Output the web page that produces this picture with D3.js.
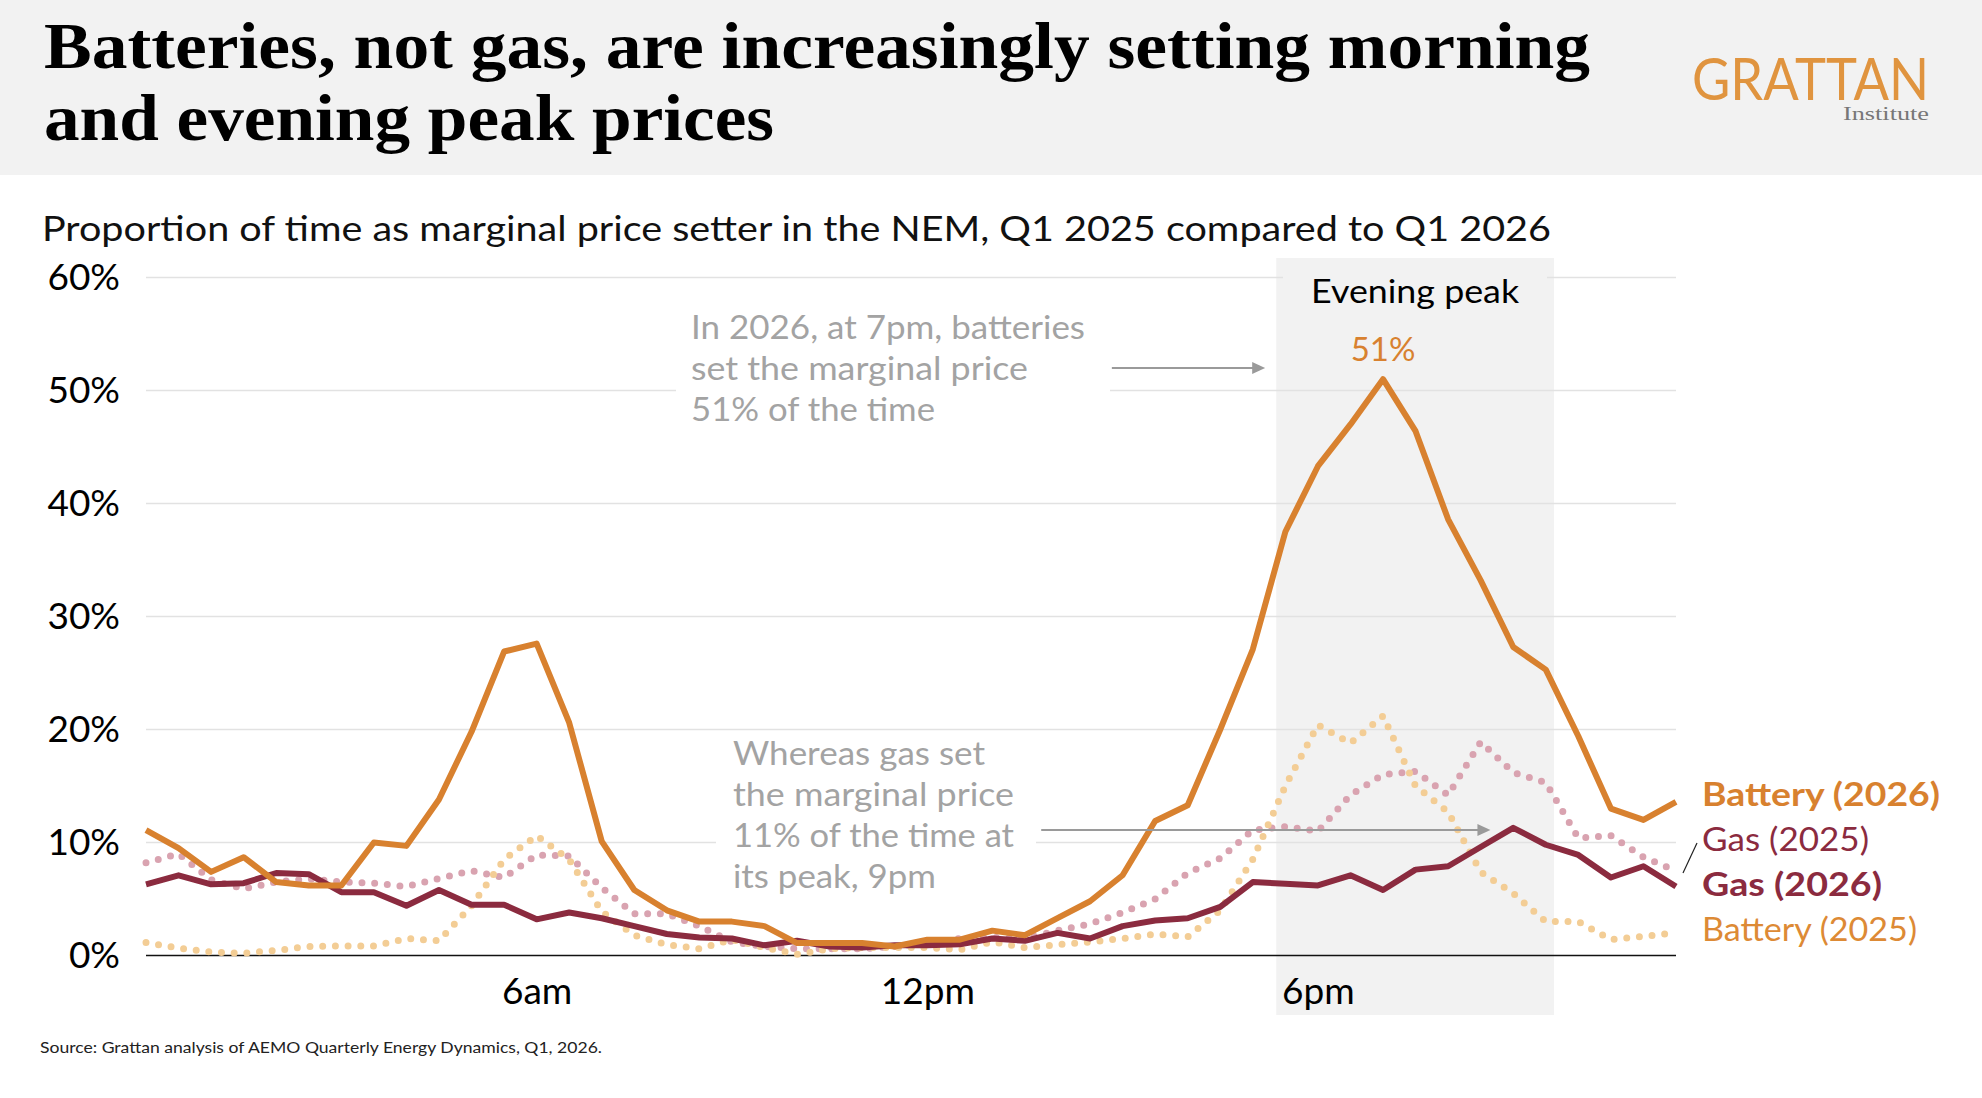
<!DOCTYPE html>
<html>
<head>
  <meta charset="utf-8">
  <title>Batteries, not gas, are increasingly setting peak prices</title>
  <script src="https://d3js.org/d3.v7.min.js"></script>
  <style>
    body { margin: 0; background: #fff; }
    text { font-family: Lato, "Noto Sans", sans-serif; }
  </style>
</head>
<body>
<script>
  // half-hourly periods 00:00 .. 23:30 (index 0..47)
  var tickPeriods = [12, 24, 36];
  var tickLabels = ["6am", "12pm", "6pm"];
  var yTicks = [0, 10, 20, 30, 40, 50, 60];
  var eveningPeak = [34.72, 43.25];

  // % of time as marginal price setter
  var battery2026 = [11.1, 9.5, 7.4, 8.7, 6.5, 6.2, 6.2, 10.0, 9.7, 13.8, 19.8, 26.9,
    27.6, 20.6, 10.1, 5.8, 4.0, 3.0, 3.0, 2.6, 1.1, 1.1, 1.1, 0.8,
    1.4, 1.4, 2.2, 1.8, 3.3, 4.8, 7.1, 11.9, 13.3, 20.0, 27.1, 37.5,
    43.3, 47.0, 51.0, 46.4, 38.6, 33.2, 27.3, 25.3, 19.4, 13.0, 12.0, 13.6];
  var gas2026 = [6.3, 7.1, 6.3, 6.4, 7.3, 7.2, 5.6, 5.6, 4.4, 5.8, 4.5, 4.5,
    3.2, 3.8, 3.3, 2.6, 1.9, 1.6, 1.5, 0.9, 1.3, 0.8, 0.7, 0.9,
    0.9, 1.0, 1.5, 1.3, 2.0, 1.5, 2.6, 3.1, 3.3, 4.3, 6.5, 6.35,
    6.2, 7.1, 5.8, 7.6, 7.9, 9.6, 11.3, 9.8, 8.9, 6.9, 7.9, 6.1];
  var gas2025 = [8.2, 9.0, 6.7, 5.9, 6.5, 6.8, 6.5, 6.4, 6.1, 6.8, 7.5, 6.9,
    8.9, 8.8, 6.0, 3.7, 3.7, 2.6, 1.2, 0.8, 0.6, 0.6, 0.6, 0.8,
    1.1, 1.5, 1.6, 1.5, 2.2, 2.8, 3.8, 5.0, 7.3, 8.6, 11.1, 11.4,
    11.0, 14.2, 16.0, 16.3, 14.2, 18.9, 16.2, 15.3, 10.4, 10.6, 8.7, 7.5];
  var battery2025 = [1.15, 0.65, 0.3, 0.2, 0.45, 0.8, 0.85, 0.85, 1.5, 1.3, 4.4, 8.5,
    10.6, 8.5, 3.9, 1.8, 0.95, 0.6, 1.4, 0.7, 0.1, 0.6, 0.7, 0.7,
    0.7, 0.5, 1.2, 0.7, 0.95, 1.2, 1.5, 1.9, 1.65, 4.0, 8.5, 15.0,
    20.4, 18.8, 21.2, 15.0, 12.7, 7.4, 5.5, 3.0, 3.0, 1.4, 1.7, 2.0];

  var orange = "#D8812F", maroon = "#8B2B3F";

  var width = 1982, height = 1098;
  var svg = d3.select("body").append("svg").attr("width", width).attr("height", height);

  // header
  svg.append("rect").attr("width", width).attr("height", 175).attr("fill", "#f2f2f2");
  var titleLines = ["Batteries, not gas, are increasingly setting morning", "and evening peak prices"];
  var titleWidths = [1546, 730];
  titleLines.forEach(function (t, i) {
    svg.append("text")
      .attr("x", 44).attr("y", 68 + i * 72)
      .attr("font-size", 65).attr("font-weight", "bold")
      .style("font-family", "'Liberation Serif', serif")
      .attr("textLength", titleWidths[i]).attr("lengthAdjust", "spacingAndGlyphs")
      .attr("fill", "#000").text(t);
  });
  svg.append("text").attr("x", 1692).attr("y", 100)
    .attr("font-size", 58).attr("fill", "#E0943F")
    .attr("textLength", 237).attr("lengthAdjust", "spacingAndGlyphs").text("GRATTAN");
  svg.append("text").attr("x", 1843).attr("y", 120)
    .attr("font-size", 18).attr("fill", "#777")
    .style("font-family", "'Liberation Serif', serif")
    .attr("textLength", 86).attr("lengthAdjust", "spacingAndGlyphs").text("Institute");

  svg.append("text").attr("x", 42).attr("y", 241)
    .attr("font-size", 35).attr("fill", "#111")
    .attr("textLength", 1509).attr("lengthAdjust", "spacingAndGlyphs")
    .text("Proportion of time as marginal price setter in the NEM, Q1 2025 compared to Q1 2026");

  // scales
  var xScale = d3.scaleLinear().domain([0, 47]).range([146, 1676]);
  var yScale = d3.scaleLinear().domain([0, 60]).range([955.5, 277.5]);

  // evening peak shading
  svg.append("rect")
    .attr("x", xScale(eveningPeak[0])).attr("y", 258)
    .attr("width", xScale(eveningPeak[1]) - xScale(eveningPeak[0]))
    .attr("height", 1015 - 258)
    .attr("fill", "#f2f2f2");

  // gridlines
  svg.append("g").selectAll("line")
    .data(yTicks.filter(function (d) { return d > 0; }))
    .enter().append("line")
    .attr("x1", xScale(0)).attr("x2", xScale(47))
    .attr("y1", function (d) { return yScale(d); })
    .attr("y2", function (d) { return yScale(d); })
    .attr("stroke", "#e2e2e2").attr("stroke-width", 1.5);

  // backgrounds behind labels (hide gridlines)
  svg.append("rect").attr("x", 1283).attr("y", 266).attr("width", 264).attr("height", 24).attr("fill", "#f2f2f2");
  svg.append("rect").attr("x", 676).attr("y", 372).attr("width", 434).attr("height", 36).attr("fill", "#fff");
  svg.append("rect").attr("x", 716).attr("y", 825).attr("width", 320).attr("height", 36).attr("fill", "#fff");

  // axes
  svg.append("g")
    .attr("transform", "translate(0," + yScale(0) + ")")
    .call(d3.axisBottom(xScale).tickValues(tickPeriods)
      .tickFormat(function (d, i) { return tickLabels[i]; })
      .tickSize(0).tickPadding(22))
    .call(function (g) { g.select(".domain").remove(); })
    .selectAll("text").attr("font-size", 37).attr("fill", "#000");

  svg.append("g")
    .attr("transform", "translate(" + xScale(0) + ",0)")
    .call(d3.axisLeft(yScale).tickValues(yTicks)
      .tickFormat(function (d) { return d + "%"; })
      .tickSize(0).tickPadding(26))
    .call(function (g) { g.select(".domain").remove(); })
    .selectAll("text").attr("font-size", 37).attr("fill", "#000");

  svg.append("line")
    .attr("x1", xScale(0)).attr("x2", xScale(47))
    .attr("y1", yScale(0)).attr("y2", yScale(0))
    .attr("stroke", "#111").attr("stroke-width", 1.6);

  // lines
  var line = d3.line()
    .x(function (d, i) { return xScale(i); })
    .y(function (d) { return yScale(d); });

  var series = [
    { values: gas2025, color: "#D9A3B0", dotted: true },
    { values: battery2025, color: "#F3CD95", dotted: true },
    { values: gas2026, color: maroon, dotted: false },
    { values: battery2026, color: orange, dotted: false }
  ];
  series.forEach(function (s) {
    var p = svg.append("path")
      .attr("d", line(s.values))
      .attr("fill", "none")
      .attr("stroke", s.color)
      .attr("stroke-linejoin", "round");
    if (s.dotted) {
      p.attr("stroke-width", 7).attr("stroke-linecap", "round").attr("stroke-dasharray", "0 12.7");
    } else {
      p.attr("stroke-width", 6);
    }
  });

  // evening peak labels
  svg.append("text")
    .attr("x", (xScale(eveningPeak[0]) + xScale(eveningPeak[1])) / 2).attr("y", 303)
    .attr("text-anchor", "middle").attr("font-size", 33).attr("fill", "#000")
    .attr("textLength", 208).attr("lengthAdjust", "spacingAndGlyphs")
    .text("Evening peak");
  svg.append("text")
    .attr("x", xScale(38)).attr("y", yScale(battery2026[38]) - 18)
    .attr("text-anchor", "middle").attr("font-size", 33).attr("fill", orange)
    .text("51%");

  // annotations
  var annotations = [
    { x: 691, y: 339, lines: ["In 2026, at 7pm, batteries", "set the marginal price", "51% of the time"],
      widths: [394, 337, 244], from: 29.67, to: 34.38, at: 52 },
    { x: 733, y: 765, lines: ["Whereas gas set", "the marginal price", "11% of the time at", "its peak, 9pm"],
      widths: [252, 281, 281, 203], from: 27.5, to: 41.3, at: 11.1 }
  ];
  annotations.forEach(function (a) {
    a.lines.forEach(function (t, i) {
      svg.append("text")
        .attr("x", a.x).attr("y", a.y + i * 41)
        .attr("font-size", 33).attr("fill", "#A3A3A3")
        .attr("textLength", a.widths[i]).attr("lengthAdjust", "spacingAndGlyphs")
        .text(t);
    });
    var y = yScale(a.at), xe = xScale(a.to);
    svg.append("line")
      .attr("x1", xScale(a.from)).attr("x2", xe - 10)
      .attr("y1", y).attr("y2", y)
      .attr("stroke", "#9a9a9a").attr("stroke-width", 2);
    svg.append("path")
      .attr("d", "M" + (xe - 13) + "," + (y - 6) + "L" + xe + "," + y + "L" + (xe - 13) + "," + (y + 6) + "Z")
      .attr("fill", "#9a9a9a");
  });

  // series labels
  var legendNames = ["Battery (2026)", "Gas (2025)", "Gas (2026)", "Battery (2025)"];
  var legendColors = [orange, maroon, maroon, "#DD8A35"];
  var legendBold = [true, false, true, false];
  var legendWidths = [238, 167, 180, 215];
  legendNames.forEach(function (n, i) {
    svg.append("text")
      .attr("x", 1702).attr("y", 806 + i * 45)
      .attr("font-size", 32)
      .attr("font-weight", legendBold[i] ? "bold" : "normal")
      .attr("fill", legendColors[i])
      .attr("textLength", legendWidths[i]).attr("lengthAdjust", "spacingAndGlyphs")
      .text(n);
  });
  svg.append("line")
    .attr("x1", 1683).attr("y1", 873).attr("x2", 1697).attr("y2", 843)
    .attr("stroke", "#222").attr("stroke-width", 1.2);

  // source
  svg.append("text").attr("x", 40).attr("y", 1053)
    .attr("font-size", 16).attr("fill", "#222")
    .attr("textLength", 562).attr("lengthAdjust", "spacingAndGlyphs")
    .text("Source: Grattan analysis of AEMO Quarterly Energy Dynamics, Q1, 2026.");
</script>
</body>
</html>
